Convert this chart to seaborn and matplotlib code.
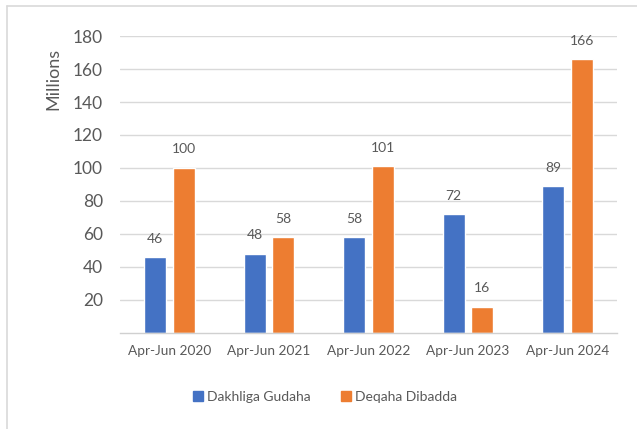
import pandas as pd
import matplotlib.pyplot as plt
import seaborn as sns
from matplotlib.lines import Line2D

# chart data
quarters = ['Apr-Jun 2020', 'Apr-Jun 2021', 'Apr-Jun 2022', 'Apr-Jun 2023', 'Apr-Jun 2024']
dakhliga = [46, 48, 58, 72, 89]
deqaha = [100, 58, 101, 16, 166]
series_names = ['Dakhliga Gudaha', 'Deqaha Dibadda']
colors = ['#4472C4', '#ED7D31']

df = pd.DataFrame({
    'Quarter': quarters * 2,
    'Value': dakhliga + deqaha,
    'Series': [series_names[0]] * len(quarters) + [series_names[1]] * len(quarters),
})

sns.set_style('white')
plt.rcParams['font.family'] = ['Lato', 'DejaVu Sans']
text_color = '#595959'

fig = plt.figure(figsize=(6.37, 4.29), dpi=100)
ax = fig.add_axes([0.188, 0.224, 0.781, 0.692])

sns.barplot(data=df, x='Quarter', y='Value', hue='Series', palette=colors,
            width=0.576, gap=0.236, ax=ax, legend=False, saturation=1)

for cont in ax.containers:
    ax.bar_label(cont, fmt='%d', padding=9, fontsize=10, color=text_color)

ax.set_ylim(0, 180)
ax.set_yticks(range(20, 181, 20))
ax.set_xlim(-0.5, 4.5)
ax.grid(axis='y', color='#d9d9d9', linewidth=1)
ax.set_axisbelow(True)
for s in ['top', 'right', 'left']:
    ax.spines[s].set_visible(False)
ax.spines['bottom'].set_color('#d0d0d0')
ax.spines['bottom'].set_linewidth(1)
ax.tick_params(axis='both', length=0, colors=text_color)
ax.tick_params(axis='y', labelsize=12.5, pad=12)
ax.tick_params(axis='x', labelsize=9.8, pad=9)
ax.set_xlabel('')
ax.set_ylabel('Millions', fontsize=13, color=text_color)
ax.yaxis.set_label_coords(-0.118, 0.855)

handles = [plt.Rectangle((0, 0), 1, 1, color=c) for c in colors]
fig.legend(handles, series_names, loc='center', bbox_to_anchor=(0.51, 1 - 397 / 429),
           ncol=2, frameon=False, fontsize=10, labelcolor=text_color,
           handlelength=0.7, handleheight=0.7, handletextpad=0.3, columnspacing=2.2)

# chart border (left and top edges visible)
fig.add_artist(Line2D([7 / 637, 7 / 637], [0, 1 - 6 / 429], transform=fig.transFigure,
                      color='#d9d9d9', linewidth=1.2))
fig.add_artist(Line2D([7 / 637, 1], [1 - 6 / 429, 1 - 6 / 429], transform=fig.transFigure,
                      color='#d9d9d9', linewidth=1.2))

fig.savefig('out.png', dpi=100)
